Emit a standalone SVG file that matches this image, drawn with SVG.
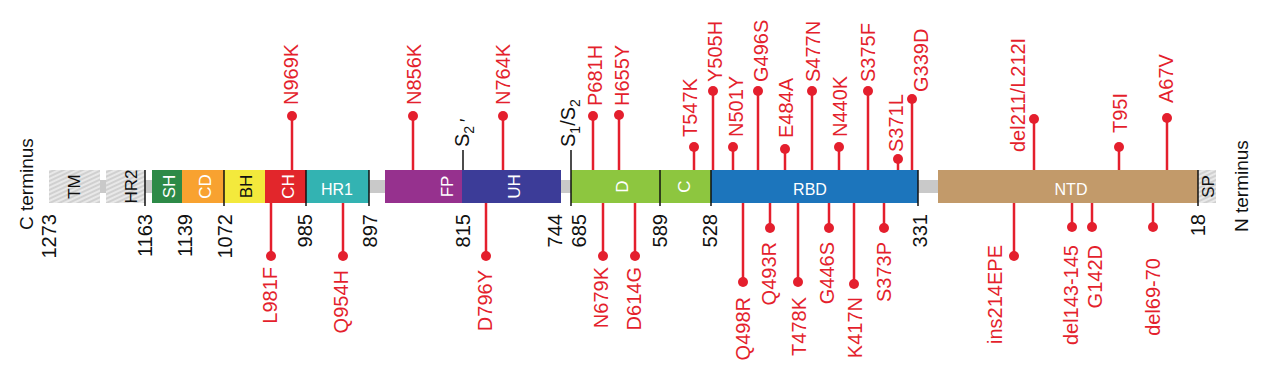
<svg xmlns="http://www.w3.org/2000/svg" width="1266" height="367" viewBox="0 0 1266 367">
<style>
text{font-family:"Liberation Sans",Arial,sans-serif}
.num{font-size:20px;fill:#111;text-anchor:end}
.term{font-size:19px;fill:#111;text-anchor:start}
.dl{font-size:17px;text-anchor:middle}
.dh{font-size:16px;text-anchor:middle}
.w{fill:#fff}
.k{fill:#111}
.mt{font-size:20px;fill:#e41f2d;text-anchor:start}
.mb{font-size:20px;fill:#e41f2d;text-anchor:end}
.stem{stroke:#e41f2d;stroke-width:2.5;fill:none}
.dot{fill:#e41f2d}
.tick{stroke:#111;stroke-width:1.5}
.slab{font-size:20px;fill:#111;text-anchor:start}
</style>
<defs>
<pattern id="hatch" width="4" height="4" patternUnits="userSpaceOnUse" patternTransform="rotate(-25)">
<rect width="4" height="4" fill="#e8e8e8"/>
<line x1="0" y1="1" x2="4" y2="1" stroke="#b8b8b8" stroke-width="1"/>
</pattern>
</defs>
<rect width="1266" height="367" fill="#fff"/>

<g id="backbone"><rect x="49" y="180" width="1167" height="13" fill="#c9c9c9"/></g>

<g id="TM"><rect x="49" y="170" width="51" height="33" fill="url(#hatch)"/><text class="dl k" transform="translate(80,186.5) rotate(-90)">TM</text></g>
<g id="HR2"><rect x="106" y="170" width="39" height="33" fill="url(#hatch)"/><text class="dl k" transform="translate(137,186.5) rotate(-90)">HR2</text></g>
<g id="SH"><rect x="152" y="170" width="30" height="33" fill="#2d8a47"/><text class="dl w" transform="translate(175,186.5) rotate(-90)">SH</text></g>
<g id="CD"><rect x="182" y="170" width="42" height="33" fill="#f8a230"/><text class="dl w" transform="translate(211,186.5) rotate(-90)">CD</text></g>
<g id="BH"><rect x="224" y="170" width="41" height="33" fill="#f3e93c"/><text class="dl k" transform="translate(252,186.5) rotate(-90)">BH</text></g>
<g id="CH"><rect x="265" y="170" width="41" height="33" fill="#e2262b"/><text class="dl w" transform="translate(294,186.5) rotate(-90)">CH</text></g>
<g id="HR1"><rect x="306" y="170" width="63" height="33" fill="#33b3b2"/><text class="dh w" x="337" y="195">HR1</text></g>
<g id="FP"><rect x="385" y="170" width="77" height="33" fill="#96318e"/><text class="dl w" transform="translate(453,186.5) rotate(-90)">FP</text></g>
<g id="UH"><rect x="462" y="170" width="99" height="33" fill="#3c3c98"/><text class="dl w" transform="translate(520,186.5) rotate(-90)">UH</text></g>
<g id="D"><rect x="571" y="170" width="89" height="33" fill="#8dc63f"/><text class="dl w" transform="translate(628,186.5) rotate(-90)">D</text></g>
<g id="C"><rect x="660" y="170" width="51" height="33" fill="#8dc63f"/><text class="dl w" transform="translate(690,186.5) rotate(-90)">C</text></g>
<g id="RBD"><rect x="711" y="170" width="207" height="33" fill="#1c75bc"/><text class="dh w" x="810" y="195">RBD</text></g>
<g id="NTD"><rect x="938" y="170" width="260" height="33" fill="#c29a6a"/><text class="dh w" x="1071" y="195">NTD</text></g>
<g id="SP"><rect x="1198" y="170" width="18" height="33" fill="url(#hatch)"/><text class="dl k" transform="translate(1214,186.5) rotate(-90)">SP</text></g>

<g id="ticks">
<line class="tick" x1="145" y1="170" x2="145" y2="206"/>
<line class="tick" x1="224" y1="170" x2="224" y2="206"/>
<line class="tick" x1="306" y1="170" x2="306" y2="206"/>
<line class="tick" x1="369" y1="170" x2="369" y2="206"/>
<line class="tick" x1="463" y1="150" x2="463" y2="170"/>
<line class="tick" x1="571" y1="150" x2="571" y2="206"/>
<line class="tick" x1="660" y1="170" x2="660" y2="206"/>
<line class="tick" x1="711" y1="170" x2="711" y2="206"/>
<line class="tick" x1="918" y1="170" x2="918" y2="206"/>
<line class="tick" x1="1198" y1="170" x2="1198" y2="206"/>
</g>

<g id="cleavage-labels">
<text class="slab" transform="translate(469,147) rotate(-90)">S<tspan font-size="14" dy="5">2</tspan><tspan font-size="18" x="25" y="4">′</tspan></text>
<text class="slab" transform="translate(575,147) rotate(-90)">S<tspan font-size="14" dy="5">1</tspan><tspan dy="-5">/S</tspan><tspan font-size="14" dy="5">2</tspan></text>
</g>

<g id="numbers">
<text class="num" transform="translate(56,214) rotate(-90)">1273</text>
<text class="num" transform="translate(152,214) rotate(-90)">1163</text>
<text class="num" transform="translate(192,214) rotate(-90)">1139</text>
<text class="num" transform="translate(232,214) rotate(-90)">1072</text>
<text class="num" transform="translate(312,214) rotate(-90)">985</text>
<text class="num" transform="translate(377,214) rotate(-90)">897</text>
<text class="num" transform="translate(470,214) rotate(-90)">815</text>
<text class="num" transform="translate(562,214) rotate(-90)">744</text>
<text class="num" transform="translate(586,214) rotate(-90)">685</text>
<text class="num" transform="translate(667,214) rotate(-90)">589</text>
<text class="num" transform="translate(717,214) rotate(-90)">528</text>
<text class="num" transform="translate(927,214) rotate(-90)">331</text>
<text class="num" transform="translate(1205,214) rotate(-90)">18</text>
</g>

<g id="C-terminus"><text class="term" transform="translate(33,230) rotate(-90)">C terminus</text></g>
<g id="N-terminus"><text class="term" transform="translate(1248,232) rotate(-90)">N terminus</text></g>

<g id="connectors">
<line class="stem" x1="292" y1="116" x2="292" y2="170"/>
<line class="stem" x1="413" y1="116" x2="413" y2="170"/>
<line class="stem" x1="503" y1="116" x2="503" y2="170"/>
<line class="stem" x1="593" y1="116" x2="593" y2="170"/>
<line class="stem" x1="619" y1="115" x2="619" y2="170"/>
<line class="stem" x1="694" y1="147" x2="694" y2="170"/>
<line class="stem" x1="713" y1="91" x2="713" y2="170"/>
<line class="stem" x1="733" y1="147" x2="733" y2="170"/>
<line class="stem" x1="758" y1="91" x2="758" y2="170"/>
<line class="stem" x1="785" y1="149" x2="785" y2="170"/>
<line class="stem" x1="812" y1="91" x2="812" y2="170"/>
<line class="stem" x1="839" y1="147" x2="839" y2="170"/>
<line class="stem" x1="868" y1="91" x2="868" y2="170"/>
<line class="stem" x1="898" y1="159" x2="898" y2="170"/>
<line class="stem" x1="912" y1="99" x2="912" y2="170"/>
<line class="stem" x1="1034" y1="119" x2="1034" y2="170"/>
<line class="stem" x1="1119" y1="147" x2="1119" y2="170"/>
<line class="stem" x1="1167" y1="118" x2="1167" y2="170"/>
<line class="stem" x1="271" y1="203" x2="271" y2="256"/>
<line class="stem" x1="343" y1="203" x2="343" y2="256"/>
<line class="stem" x1="486" y1="203" x2="486" y2="256"/>
<line class="stem" x1="603" y1="203" x2="603" y2="256"/>
<line class="stem" x1="635" y1="203" x2="635" y2="256"/>
<line class="stem" x1="743" y1="203" x2="743" y2="282"/>
<line class="stem" x1="770" y1="203" x2="770" y2="228"/>
<line class="stem" x1="798" y1="203" x2="798" y2="282"/>
<line class="stem" x1="829" y1="203" x2="829" y2="228"/>
<line class="stem" x1="854" y1="203" x2="854" y2="284"/>
<line class="stem" x1="884" y1="203" x2="884" y2="228"/>
<line class="stem" x1="1014" y1="203" x2="1014" y2="256"/>
<line class="stem" x1="1072" y1="203" x2="1072" y2="227"/>
<line class="stem" x1="1092" y1="203" x2="1092" y2="227"/>
<line class="stem" x1="1153" y1="203" x2="1153" y2="227"/>
</g>

<g id="m-N969K"><circle class="dot" cx="292" cy="116" r="5"/><text class="mt" transform="translate(298,105) rotate(-90)">N969K</text></g>
<g id="m-N856K"><circle class="dot" cx="413" cy="116" r="5"/><text class="mt" transform="translate(421,105) rotate(-90)">N856K</text></g>
<g id="m-N764K"><circle class="dot" cx="503" cy="116" r="5"/><text class="mt" transform="translate(510,105) rotate(-90)">N764K</text></g>
<g id="m-P681H"><circle class="dot" cx="593" cy="116" r="5"/><text class="mt" transform="translate(602,106) rotate(-90)">P681H</text></g>
<g id="m-H655Y"><circle class="dot" cx="619" cy="115" r="5"/><text class="mt" transform="translate(629,106) rotate(-90)">H655Y</text></g>
<g id="m-T547K"><circle class="dot" cx="694" cy="147" r="5"/><text class="mt" transform="translate(697,137) rotate(-90)">T547K</text></g>
<g id="m-Y505H"><circle class="dot" cx="713" cy="91" r="5"/><text class="mt" transform="translate(722,82) rotate(-90)">Y505H</text></g>
<g id="m-N501Y"><circle class="dot" cx="733" cy="147" r="5"/><text class="mt" transform="translate(743,137) rotate(-90)">N501Y</text></g>
<g id="m-G496S"><circle class="dot" cx="758" cy="91" r="5"/><text class="mt" transform="translate(768,82) rotate(-90)">G496S</text></g>
<g id="m-E484A"><circle class="dot" cx="785" cy="149" r="5"/><text class="mt" transform="translate(793,138) rotate(-90)">E484A</text></g>
<g id="m-S477N"><circle class="dot" cx="812" cy="91" r="5"/><text class="mt" transform="translate(820,82) rotate(-90)">S477N</text></g>
<g id="m-N440K"><circle class="dot" cx="839" cy="147" r="5"/><text class="mt" transform="translate(847,137) rotate(-90)">N440K</text></g>
<g id="m-S375F"><circle class="dot" cx="868" cy="91" r="5"/><text class="mt" transform="translate(875,82) rotate(-90)">S375F</text></g>
<g id="m-S371L"><circle class="dot" cx="898" cy="159" r="5"/><text class="mt" transform="translate(903,152) rotate(-90)">S371L</text></g>
<g id="m-G339D"><circle class="dot" cx="912" cy="99" r="5"/><text class="mt" transform="translate(928,92) rotate(-90)">G339D</text></g>
<g id="m-del211"><circle class="dot" cx="1034" cy="119" r="5"/><text class="mt" transform="translate(1025,152) rotate(-90)">del211/L212I</text></g>
<g id="m-T95I"><circle class="dot" cx="1119" cy="147" r="5"/><text class="mt" transform="translate(1127,133) rotate(-90)">T95I</text></g>
<g id="m-A67V"><circle class="dot" cx="1167" cy="118" r="5"/><text class="mt" transform="translate(1173,103) rotate(-90)">A67V</text></g>

<g id="m-L981F"><circle class="dot" cx="271" cy="256" r="5"/><text class="mb" transform="translate(277,267) rotate(-90)">L981F</text></g>
<g id="m-Q954H"><circle class="dot" cx="343" cy="256" r="5"/><text class="mb" transform="translate(348,270) rotate(-90)">Q954H</text></g>
<g id="m-D796Y"><circle class="dot" cx="486" cy="256" r="5"/><text class="mb" transform="translate(492,270) rotate(-90)">D796Y</text></g>
<g id="m-N679K"><circle class="dot" cx="603" cy="256" r="5"/><text class="mb" transform="translate(608,267) rotate(-90)">N679K</text></g>
<g id="m-D614G"><circle class="dot" cx="635" cy="256" r="5"/><text class="mb" transform="translate(641,267) rotate(-90)">D614G</text></g>
<g id="m-Q498R"><circle class="dot" cx="743" cy="282" r="5"/><text class="mb" transform="translate(750,297) rotate(-90)">Q498R</text></g>
<g id="m-Q493R"><circle class="dot" cx="770" cy="228" r="5"/><text class="mb" transform="translate(776,242) rotate(-90)">Q493R</text></g>
<g id="m-T478K"><circle class="dot" cx="798" cy="282" r="5"/><text class="mb" transform="translate(806,297) rotate(-90)">T478K</text></g>
<g id="m-G446S"><circle class="dot" cx="829" cy="228" r="5"/><text class="mb" transform="translate(834,242) rotate(-90)">G446S</text></g>
<g id="m-K417N"><circle class="dot" cx="854" cy="284" r="5"/><text class="mb" transform="translate(862,297) rotate(-90)">K417N</text></g>
<g id="m-S373P"><circle class="dot" cx="884" cy="228" r="5"/><text class="mb" transform="translate(891,242) rotate(-90)">S373P</text></g>
<g id="m-ins214EPE"><circle class="dot" cx="1014" cy="256" r="5"/><text class="mb" transform="translate(1002,245) rotate(-90)">ins214EPE</text></g>
<g id="m-del143"><circle class="dot" cx="1072" cy="227" r="5"/><text class="mb" transform="translate(1078,245) rotate(-90)">del143-145</text></g>
<g id="m-G142D"><circle class="dot" cx="1092" cy="227" r="5"/><text class="mb" transform="translate(1102,245) rotate(-90)">G142D</text></g>
<g id="m-del69"><circle class="dot" cx="1153" cy="227" r="5"/><text class="mb" transform="translate(1160,258) rotate(-90)">del69-70</text></g>
</svg>
